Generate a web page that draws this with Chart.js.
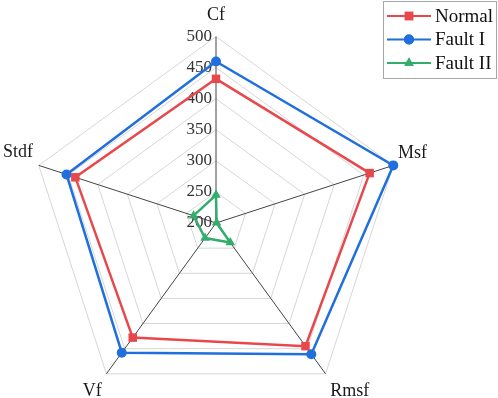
<!DOCTYPE html>
<html>
<head>
<meta charset="utf-8">
<script src="https://cdn.jsdelivr.net/npm/chart.js@4.4.1/dist/chart.umd.min.js"></script>
<style>
    html, body { margin: 0; padding: 0; background: #fff; overflow: hidden; width: 498px; height: 398px; }
    #wrap { position: absolute; left: -4px; top: -12px; width: 502px; height: 438px; }
</style>
</head>
<body>
<div id="wrap"><canvas id="radarChart"></canvas></div>
<script>
// Radar chart of features

const features = ['Cf', 'Msf', 'Rmsf', 'Vf', 'Stdf'];
const normalValues = [432, 460, 445, 428, 438];
const fault1Values = [460, 500, 461, 458, 453];
const fault2Values = [245, 201, 239, 230, 238];
const seriesNames = ['Normal', 'Fault I', 'Fault II'];
const tickMin = 200;
const tickMax = 500;
const tickStep = 50;

// canvas is shifted up/left a bit, legend coords are page coords
const OFFSET_X = 4;
const OFFSET_Y = 12;
const serif = "'Liberation Serif', 'Times New Roman', serif";

const colors = ['#e8474c', '#1f6fdc', '#32ad6c'];
const styles = ['rect', 'circle', 'triangle'];
const radii = [6, 5, 5.5];

// tick labels drawn left of the Cf axis, under the lines
const tickLabelPlugin = {
    id: 'tickLabels',
    beforeDatasetsDraw(chart) {
        const scale = chart.scales.r;
        const ctx = chart.ctx;
        ctx.save();
        ctx.font = '17px ' + serif;
        ctx.fillStyle = '#333';
        ctx.textAlign = 'right';
        ctx.textBaseline = 'middle';
        scale.ticks.forEach(t => {
            const p = scale.getPointPositionForValue(0, t.value);
            ctx.fillText(String(t.value), p.x - 4, p.y);
        });
        ctx.restore();
    }
};

// boxed legend with line + marker, top right
const lineLegendPlugin = {
    id: 'lineLegend',
    afterDraw(chart) {
        const ctx = chart.ctx;
        const x0 = 383 + OFFSET_X;
        const y0 = 1 + OFFSET_Y;
        ctx.save();
        ctx.fillStyle = '#fff';
        ctx.fillRect(x0, y0, 113, 77);
        ctx.strokeStyle = '#a6a6a6';
        ctx.lineWidth = 1;
        ctx.strokeRect(x0 + 0.5, y0 + 0.5, 113, 77);
        ctx.font = '19px ' + serif;
        ctx.textBaseline = 'middle';
        ctx.textAlign = 'left';
        chart.data.datasets.forEach((ds, i) => {
            const y = y0 + 15 + i * 23.5;
            ctx.strokeStyle = ds.borderColor;
            ctx.lineWidth = 2;
            ctx.beginPath();
            ctx.moveTo(x0 + 4, y);
            ctx.lineTo(x0 + 48, y);
            ctx.stroke();
            ctx.fillStyle = ds.borderColor;
            Chart.helpers.drawPoint(ctx, {
                pointStyle: ds.pointStyle,
                radius: ds.pointRadius,
                rotation: 0,
                borderWidth: 0
            }, x0 + 26, y);
            ctx.fill();
            ctx.fillStyle = '#111';
            ctx.fillText(ds.label, x0 + 52, y + 1);
        });
        ctx.restore();
    }
};

const valueSets = [normalValues, fault1Values, fault2Values];

const ctx = document.getElementById('radarChart').getContext('2d');
const radarChart = new Chart(ctx, {
    type: 'radar',
    data: {
        labels: features,
        datasets: valueSets.map((vals, i) => ({
            label: seriesNames[i],
            data: vals,
            borderColor: colors[i],
            backgroundColor: colors[i],
            pointBackgroundColor: colors[i],
            pointBorderColor: colors[i],
            pointBorderWidth: 0,
            pointStyle: styles[i],
            pointRadius: radii[i],
            borderWidth: 2.5,
            fill: false
        }))
    },
    options: {
        responsive: true,
        maintainAspectRatio: false,
        animation: false,
        layout: {
            padding: { left: 0, right: 64, top: 0, bottom: 0 }
        },
        scales: {
            r: {
                min: tickMin,
                max: tickMax,
                ticks: { display: false, stepSize: tickStep },
                grid: { color: '#d6d6d6', lineWidth: 1 },
                angleLines: { color: '#444', lineWidth: 1 },
                pointLabels: {
                    color: '#1a1a1a',
                    font: { family: serif, size: 18 },
                    padding: ctx => [11, 5, 8, 8, 6][ctx.index]
                }
            }
        },
        plugins: {
            legend: { display: false },
            tooltip: { enabled: false }
        }
    },
    plugins: [tickLabelPlugin, lineLegendPlugin]
});
</script>
</body>
</html>
